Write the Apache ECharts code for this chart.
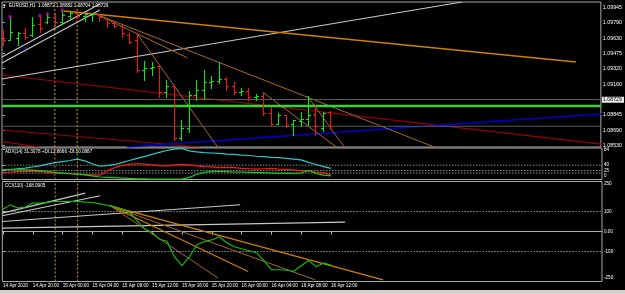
<!DOCTYPE html>
<html><head><meta charset="utf-8">
<script src="https://cdn.jsdelivr.net/npm/echarts@6/dist/echarts.min.js"></script>
<style>html,body{margin:0;padding:0;background:#000;overflow:hidden}#c{width:625px;height:294px}</style>
</head><body><div id="c"></div>
<script>
// ---------- data ----------
const timeLabels = ['14 Apr 2020','14 Apr 20:00','15 Apr 00:00','15 Apr 04:00','15 Apr 08:00','15 Apr 12:00','15 Apr 16:00','15 Apr 20:00','16 Apr 00:00','16 Apr 04:00','16 Apr 08:00','16 Apr 12:00'];
const timeLabelBars = [0,4,8,12,16,20,24,28,32,36,40,44];

const open  = [1.09682,1.09611,1.09631,1.09682,1.09662,1.09774,1.09795,1.09846,1.09795,1.09856,1.09887,1.09856,1.09866,1.09876,1.09825,1.09784,1.09754,1.09662,1.09611,1.09304,1.09324,1.09345,1.09079,1.09140,1.08609,1.08711,1.09048,1.09099,1.09181,1.09191,1.09212,1.09140,1.09079,1.09089,1.09028,1.09038,1.08864,1.08752,1.08844,1.08752,1.08782,1.08803,1.08854,1.08711,1.08872];
const high  = [1.09713,1.09846,1.09692,1.09733,1.09846,1.09856,1.09876,1.09887,1.09917,1.09897,1.09887,1.09887,1.09887,1.09876,1.09825,1.09795,1.09764,1.09682,1.09682,1.09396,1.09386,1.09355,1.09202,1.09151,1.08793,1.09089,1.09202,1.09304,1.09243,1.09386,1.09232,1.09181,1.09120,1.09120,1.09059,1.09069,1.08926,1.08864,1.08844,1.08793,1.08875,1.09038,1.08946,1.08875,1.08882];
const low   = [1.09560,1.09611,1.09560,1.09621,1.09652,1.09692,1.09784,1.09764,1.09774,1.09825,1.09836,1.09805,1.09805,1.09805,1.09744,1.09744,1.09641,1.09580,1.09283,1.09202,1.09253,1.09028,1.09028,1.08588,1.08588,1.08670,1.08997,1.09007,1.09120,1.09171,1.09099,1.09059,1.09048,1.08997,1.08997,1.08844,1.08742,1.08752,1.08721,1.08639,1.08731,1.08742,1.08639,1.08680,1.08704];
const close = [1.09611,1.09692,1.09682,1.09641,1.09764,1.09733,1.09846,1.09795,1.09866,1.09887,1.09856,1.09876,1.09876,1.09846,1.09784,1.09754,1.09682,1.09590,1.09304,1.09324,1.09335,1.09079,1.09140,1.08609,1.08711,1.09048,1.09099,1.09181,1.09191,1.09212,1.09140,1.09079,1.09089,1.09028,1.09038,1.08864,1.08752,1.08844,1.08742,1.08793,1.08803,1.08844,1.08731,1.08864,1.08729];

const priceTicks = [1.09945,1.09790,1.09630,1.09475,1.09320,1.09160,1.09005,1.08845,1.08690,1.08530];
const bidPrice = 1.08729;
const greenLevel = 1.08936;
const upFractals = [[1,1.09849],[5,1.09859],[6,1.09876],[8,1.09917]];
const downFractals = [[3,1.09529]];
const markerBars = [7,10];

const redLines   = [[[-0.1,1.09253],[80.4,1.08547]], [[-0.1,1.08691],[26.45,1.08517]], [[-0.1,1.08571],[5.0,1.08517]]];
const blueLines  = [[[16.66,1.08517],[80.4,1.08854]]];
const whiteLines = [[[-0.1,1.09437],[13.04,1.09979]], [[-0.1,1.09376],[13.04,1.09917]], [[-0.1,1.09212],[61.7,1.09999]]];
const orangeLines= [[[8.22,1.09907],[76.98,1.09386]]];
const tanLines   = [[[12.51,1.09876],[24.84,1.09427]], [[12.51,1.09876],[57.95,1.08517]], [[18.0,1.09682],[28.86,1.08517]], [[34.89,1.09079],[44.81,1.08517]], [[40.93,1.09038],[45.88,1.08517]]];

const plusDI  = [28,28,27,27,26,25,23,20,18,16,15,13,10,7,6,5,4,3,2,2,1,1,1,1,1,6,14,20,22,23,22,21,21,20,20,19,18,18,17,17,18,26,17,12,10.09];
const minusDI = [20,21,22,22,23,22,20,18,17,16,15,14,13,12,24,33,39,43,44,43,41,39,38,40,42,40,38,36,35,33,34,33,31,30,29,30,31,29,28,27,25,23,21,19,12.87];
const adxMain = [26,28,30,32,35,38,43,47,50,53,57,52,44,37,39,42,47,53,59,64,70,76,81,85,87,80,77,75,74,73,71,70,68,67,65,64,62,61,59,57,55,48,42,36,31.31];
const adxLevels = [40,25,18];
const adxTicks = [84,40,25,18,0];

const cci = [111,133,117,122,142,142,146,150,150,150,150,147,145,138,131,123,111,96,53,13,-4,-39,-49,-126,-171,-127,-66,-51,-42,-26,-56,-76,-86,-96,-106,-146,-191,-191,-194,-199,-171,-145,-176,-158,-168.09];
const cciLevels = [100,0,-100];
const cciTicks = [250,100,0,-100,-250];
const cciTickLabels = ['250','100','0.00','-100','-250'];
const cciWhite = [[[-0.1,92],[11.03,192]], [[-0.1,78.5],[13.04,178.5]], [[-0.1,50],[31.81,133.5]], [[-0.1,17],[45.88,47]]];
const cciOrange = [[[14.38,128.5],[50.98,-241.5]], [[14.38,128.5],[32.88,-200]]];
const cciTan = [[[14.38,128.5],[41.86,-241.5]], [[14.38,128.5],[28.86,-233]]];

// ---------- chart ----------
const XMIN = -0.094, XMAX = 80.34;
const PMIN = 1.08517, PMAX = 1.09999;
const FONT = 'Liberation Sans';
const chart = echarts.init(document.getElementById('c'), null, {renderer:'canvas'});

function seg(g, pts, color, width, type, z) {
  return {type:'line', xAxisIndex:g, yAxisIndex:g, data:pts, symbol:'none', silent:true, animation:false,
    lineStyle:{color:color, width:width, type:type||'solid'}, z:z||2};
}
const series = [];
const yr = [[PMIN,PMAX],[0,88],[-250,250]];
for (let g=0; g<3; g++) for (const b of markerBars) series.push(seg(g, [[b,yr[g][0]],[b,yr[g][1]]], '#c8a000', 1, [2,2], 1));

redLines.forEach(l => series.push(seg(0,l,'#a00000',1.2)));
blueLines.forEach(l => series.push(seg(0,l,'#0000d0',1.5)));
whiteLines.forEach(l => series.push(seg(0,l,'#c8c8c8',1.2)));
orangeLines.forEach(l => series.push(seg(0,l,'#d08000',1.5)));
tanLines.forEach(l => series.push(seg(0,l,'#a8682a',1)));
series.push(seg(0, [[XMIN,greenLevel],[XMAX,greenLevel]], '#3ad23a', 2.6, 'solid', 3));
series.push({type:'line', xAxisIndex:0, yAxisIndex:0, data:[[XMIN,bidPrice],[XMAX,bidPrice]], symbol:'none', silent:true,
  lineStyle:{color:'#5a5a5a', width:1.2}, z:2,
  markLine:{silent:true, symbol:'none', animation:false, lineStyle:{color:'#5a5a5a', width:1.2, type:'solid'},
    data:[{yAxis:bidPrice}],
    label:{position:'end', distance:1, formatter:bidPrice.toFixed(5), color:'#000', backgroundColor:'#e8e8e8', fontSize:5.3, fontFamily:FONT, padding:[1,2,0,1]}}});

const ohlc = open.map((o,i)=>[i,o,close[i],low[i],high[i]]);
series.push({type:'custom', xAxisIndex:0, yAxisIndex:0, data:ohlc, z:5, silent:true, animation:false, clip:true,
  encode:{x:0, y:[1,2,3,4]},
  renderItem:function(params, api){
    const x=api.value(0), o=api.value(1), c=api.value(2), l=api.value(3), h=api.value(4);
    const pO=api.coord([x,o]), pC=api.coord([x,c]), pL=api.coord([x,l]), pH=api.coord([x,h]);
    const col = c>=o ? '#00f000' : '#ff1010';
    const cx = Math.round(pO[0])+0.5;
    const st = {stroke:col, lineWidth:1};
    return {type:'group', children:[
      {type:'line', shape:{x1:cx,y1:Math.round(pH[1]),x2:cx,y2:Math.round(pL[1])+1}, style:st},
      {type:'line', shape:{x1:cx-2.5,y1:Math.round(pO[1])+0.5,x2:cx,y2:Math.round(pO[1])+0.5}, style:st},
      {type:'line', shape:{x1:cx,y1:Math.round(pC[1])+0.5,x2:cx+2.5,y2:Math.round(pC[1])+0.5}, style:st}
    ]};
  }});
series.push({type:'scatter', xAxisIndex:0, yAxisIndex:0, data:upFractals, symbol:'rect', symbolSize:3, itemStyle:{color:'#d000d0'}, silent:true, z:6});
series.push({type:'scatter', xAxisIndex:0, yAxisIndex:0, data:downFractals, symbol:'rect', symbolSize:[3,1.5], itemStyle:{color:'#2020ff'}, silent:true, z:6});

adxLevels.forEach(v => series.push(seg(1, [[XMIN,v],[XMAX,v]], '#b0b0b0', 0.8, [1.5,1.5], 1)));
const idx = adxMain.map((_,i)=>i);
series.push(seg(1, idx.map(i=>[i,adxMain[i]]), '#30c8c8', 1.2, 'solid', 4));
series.push(seg(1, idx.map(i=>[i,minusDI[i]]), '#ff1a1a', 1.2, 'solid', 4));
series.push(seg(1, idx.map(i=>[i,plusDI[i]]), '#10d010', 1.2, 'solid', 4));

cciLevels.forEach(v => series.push(seg(2, [[XMIN,v],[XMAX,v]], '#b0b0b0', 0.8, [1.5,1.5], 1)));
cciWhite.forEach(l => series.push(seg(2,l,'#c8c8c8',1.1)));
cciOrange.forEach(l => series.push(seg(2,l,'#d08000',1.2)));
cciTan.forEach(l => series.push(seg(2,l,'#a8682a',1)));
series.push(seg(2, cci.map((v,i)=>[i,v]), '#10c010', 1.1, 'solid', 4));

const lbl = {color:'#ffffff', fontSize:5.3, fontFamily:FONT};
const grids = [
  {left:2, top:2, width:600, height:145},
  {left:2, top:148, width:600, height:31.5},
  {left:2, top:181.5, width:600, height:100}
].map(g => Object.assign(g, {show:true, borderColor:'#a8a8a8', borderWidth:1, backgroundColor:'#000', containLabel:false}));

const xAxes = [0,1,2].map(g => ({type:'value', gridIndex:g, min:XMIN, max:XMAX, show: g===2,
  splitLine:{show:false}, axisLine:{show:g===2, lineStyle:{color:'#a8a8a8'}},
  axisTick:{show:g===2, customValues:timeLabelBars, length:3, lineStyle:{color:'#c0c0c0'}},
  axisLabel:{show:g===2, customValues:timeLabelBars, color:'#fff', fontSize:4.6, fontFamily:FONT, align:'left', margin:2,
    formatter:v => timeLabels[timeLabelBars.indexOf(Math.round(v))] || ''}}));

const smallRich = {
  hi:{color:'#fff', fontSize:4.6, fontFamily:FONT, padding:[5,0,0,0]},
  lo:{color:'#fff', fontSize:4.6, fontFamily:FONT, padding:[0,0,7,0]},
  n:{color:'#fff', fontSize:4.6, fontFamily:FONT}
};
const yAxes = [
  {type:'value', gridIndex:0, position:'right', min:PMIN, max:PMAX, splitLine:{show:false},
   axisLine:{show:false}, axisTick:{show:true, customValues:priceTicks, length:2, lineStyle:{color:'#c0c0c0'}},
   axisLabel:Object.assign({customValues:priceTicks, margin:2, formatter:v=>v.toFixed(5)}, lbl)},
  {type:'value', gridIndex:1, position:'right', min:0, max:88, splitLine:{show:false},
   axisLine:{show:false}, axisTick:{show:true, customValues:adxTicks, length:2, lineStyle:{color:'#c0c0c0'}},
   axisLabel:{customValues:adxTicks, margin:2, showMinLabel:true, showMaxLabel:true, rich:smallRich,
     formatter:v=> v===0 ? '{lo|0}' : '{n|'+v+'}'}},
  {type:'value', gridIndex:2, position:'right', min:-250, max:250, splitLine:{show:false},
   axisLine:{show:false}, axisTick:{show:true, customValues:cciTicks, length:2, lineStyle:{color:'#c0c0c0'}},
   axisLabel:{customValues:cciTicks, margin:2, showMinLabel:true, showMaxLabel:true, rich:smallRich,
     formatter:v=>{const t=cciTickLabels[cciTicks.indexOf(v)]; return v===250?'{hi|'+t+'}':(v===-250?'{lo|'+t+'}':'{n|'+t+'}');}}}
];

chart.setOption({
  backgroundColor:'#000', animation:false,
  textStyle:{fontFamily:FONT},
  grid:grids, xAxis:xAxes, yAxis:yAxes, series:series,
  graphic:[
    {type:'text', left:3, top:3, style:{text:'\u25BE', fill:'#ffffff', font:'5px "Liberation Sans"'}},
    {type:'text', left:9, top:3, style:{text:'EURUSD,H1  1.08872 1.08882 1.08704 1.08729', fill:'#ffffff', font:'4.6px "Liberation Sans"'}},
    {type:'text', left:5, top:149.5, style:{text:'ADX(14) 31.3078 +DI:12.8666 -DI:10.0887', fill:'#ffffff', font:'4.6px "Liberation Sans"'}},
    {type:'text', left:5, top:183, style:{text:'CCI(110) -168.0905', fill:'#ffffff', font:'4.6px "Liberation Sans"'}},
    {type:'rect', shape:{x:0, y:290, width:625, height:4}, style:{fill:'#d4d0c8'}}
  ]
});
</script></body></html>
